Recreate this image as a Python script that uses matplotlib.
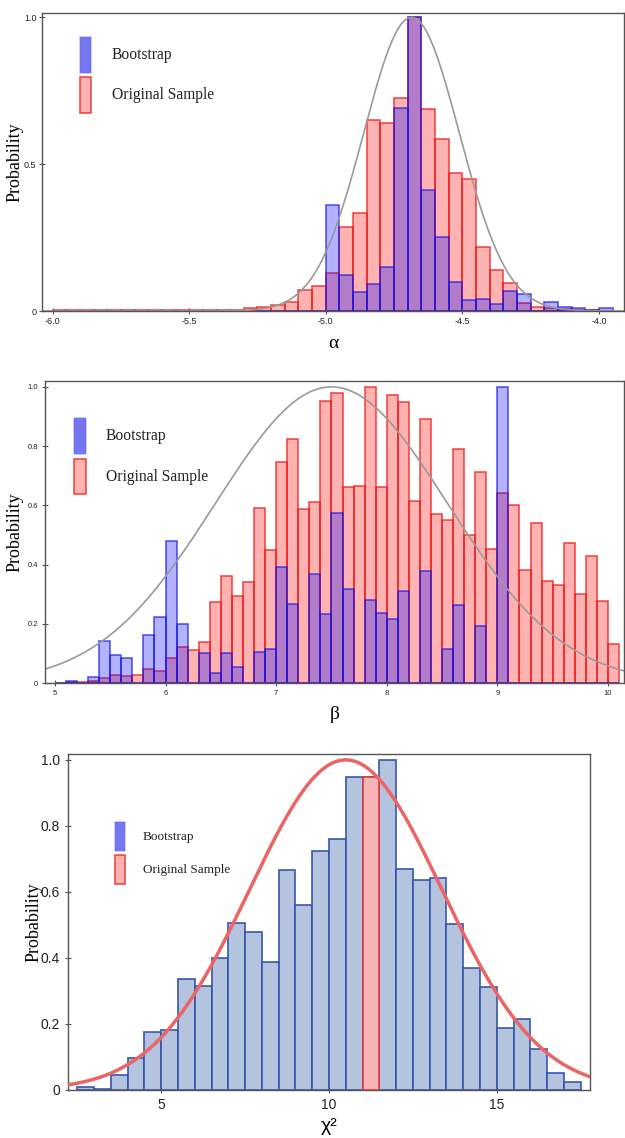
import numpy as np
import matplotlib
matplotlib.use("Agg")
import matplotlib.pyplot as plt
import matplotlib.patches as patches

# ---- alpha panel: bins of 0.05 starting at -6.0 ----
alpha_edges_start = -6.0
alpha_width = 0.05
alpha_orig = [0.003] * 13 + [0.005, 0.009, 0.015, 0.02, 0.03, 0.07, 0.086,
              0.128, 0.285, 0.335, 0.650, 0.641, 0.726, 1.0, 0.688, 0.585,
              0.469, 0.448, 0.219, 0.140, 0.096, 0.028, 0.012, 0.009, 0.006,
              0.004, 0.005, 0.0]
alpha_boot = [0.0] * 20 + [0.361, 0.121, 0.066, 0.092, 0.149, 0.692, 1.0,
              0.411, 0.253, 0.098, 0.037, 0.042, 0.023, 0.069, 0.058, 0.0,
              0.032, 0.015, 0.009, 0.005, 0.009]
alpha_curve = (-4.686, 0.175)
alpha_ticks = [-6.0, -5.5, -5.0, -4.5, -4.0]

# ---- beta panel: bins of 0.1 starting at 5.0 ----
beta_edges_start = 5.0
beta_width = 0.1
beta_orig = [0.002, 0.003, 0.004, 0.008, 0.017, 0.029, 0.025, 0.027, 0.048,
             0.042, 0.085, 0.122, 0.112, 0.138, 0.274, 0.363, 0.296, 0.340,
             0.592, 0.448, 0.746, 0.825, 0.587, 0.610, 0.952, 0.980, 0.663,
             0.666, 1.0, 0.661, 0.974, 0.948, 0.615, 0.890, 0.571, 0.551,
             0.790, 0.500, 0.713, 0.452, 0.643, 0.602, 0.381, 0.542, 0.344,
             0.330, 0.472, 0.301, 0.430, 0.276, 0.133]
beta_boot = [0.0, 0.007, 0.0, 0.020, 0.142, 0.094, 0.085, 0.0, 0.164, 0.225,
             0.480, 0.200, 0.0, 0.101, 0.034, 0.103, 0.056, 0.0, 0.107, 0.117,
             0.391, 0.266, 0.0, 0.367, 0.233, 0.575, 0.318, 0.0, 0.281, 0.236,
             0.218, 0.311, 0.0, 0.379, 0.0, 0.115, 0.264, 0.0, 0.192, 0.0,
             1.0, 0, 0, 0, 0, 0, 0, 0, 0, 0, 0]
beta_curve = (7.5, 1.05)
beta_ticks = [5, 6, 7, 8, 9, 10]

# ---- chi2 panel: bins of 0.5 starting at 2.5 ----
chi_edges_start = 2.5
chi_width = 0.5
chi_boot = [0.008, 0.004, 0.044, 0.098, 0.175, 0.183, 0.335, 0.314, 0.400,
            0.507, 0.480, 0.387, 0.667, 0.560, 0.725, 0.760, 0.947, 0.947,
            1.0, 0.670, 0.636, 0.643, 0.502, 0.368, 0.311, 0.187, 0.216,
            0.124, 0.050, 0.025]
chi_orig_left = 11.0
chi_orig_height = 0.947
chi_curve = (10.5, 2.87)
chi_ticks = [5, 10, 15]

serif = ["Liberation Serif", "DejaVu Serif"]
sans = ["Liberation Sans", "DejaVu Sans"]

fig = plt.figure(figsize=(6.25, 11.38), dpi=100)


def lefts(start, width, n):
    return start + width * np.arange(n)


def legend_boxes(ax, x, ys, w, h, styles, labels, fs):
    for y, st, lab in zip(ys, styles, labels):
        ax.add_patch(patches.Rectangle((x, y), w, h, transform=ax.transAxes,
                                       clip_on=False, **st))
        ax.text(x + w + 0.035, y + h / 2, lab, transform=ax.transAxes,
                va="center", ha="left", fontsize=fs, family=serif, color="#222")


def style_axes(ax, tick_fs, pad=3.5):
    for s in ax.spines.values():
        s.set_color("#555555")
        s.set_linewidth(1.0)
    ax.tick_params(direction="inout", length=5, width=0.8, colors="#555555",
                   labelsize=tick_fs, labelcolor="#222222", pad=pad)
    for lab in ax.get_xticklabels() + ax.get_yticklabels():
        lab.set_family(sans)


red_kw = dict(facecolor=(1, 0, 0, 0.3), edgecolor=(0.95, 0.1, 0.1, 0.75), linewidth=1.2)
blue_kw = dict(facecolor=(0, 0, 1, 0.3), edgecolor=(0.1, 0.1, 0.9, 0.7), linewidth=1.2)
leg_blue = dict(facecolor=(0.1, 0.1, 0.9, 0.6), edgecolor=(0.4, 0.4, 1, 0.4), linewidth=1.2)
leg_red = dict(facecolor=(1, 0, 0, 0.3), edgecolor=(0.95, 0.1, 0.1, 0.75), linewidth=1.2)

# ---------- panel 1 ----------
ax1 = fig.add_axes([0.0672, 0.7267, 0.9312, 0.2619])
ax1.bar(lefts(alpha_edges_start, alpha_width, len(alpha_orig)), alpha_orig,
        width=alpha_width, align="edge", **red_kw)
ax1.bar(lefts(alpha_edges_start, alpha_width, len(alpha_boot)), alpha_boot,
        width=alpha_width, align="edge", **blue_kw)
xs = np.linspace(-6.04, -3.9, 400)
ax1.plot(xs, np.exp(-0.5 * ((xs - alpha_curve[0]) / alpha_curve[1]) ** 2),
         color="#9a9a9a", lw=1.2)
ax1.set_xlim(-6.039, -3.908)
ax1.set_ylim(0, 1.015)
ax1.set_xticks(alpha_ticks)
ax1.set_xticklabels(["-6.0", "-5.5", "-5.0", "-4.5", "-4.0"])
ax1.set_yticks([0, 0.5, 1.0])
ax1.set_yticklabels(["0", "0.5", "1.0"])
style_axes(ax1, 6.5, pad=1.5)
ax1.set_xlabel("α", fontsize=14, family=serif, labelpad=7)
ax1.set_ylabel("Probability", fontsize=13, family=serif)
ax1.yaxis.set_label_coords(-0.031, 0.5)
legend_boxes(ax1, 0.066, [0.80, 0.665], 0.019, 0.12, [leg_blue, leg_red],
             ["Bootstrap", "Original Sample"], 11.2)

# ---------- panel 2 ----------
ax2 = fig.add_axes([0.072, 0.3996, 0.9264, 0.2654])
ax2.bar(lefts(beta_edges_start, beta_width, len(beta_orig)), beta_orig,
        width=beta_width, align="edge", **red_kw)
ax2.bar(lefts(beta_edges_start, beta_width, len(beta_boot)), beta_boot,
        width=beta_width, align="edge", **blue_kw)
xs = np.linspace(4.9, 10.2, 400)
ax2.plot(xs, np.exp(-0.5 * ((xs - beta_curve[0]) / beta_curve[1]) ** 2),
         color="#9a9a9a", lw=1.2)
ax2.set_xlim(4.91, 10.145)
ax2.set_ylim(0, 1.019)
ax2.set_xticks(beta_ticks)
ax2.set_yticks([0, 0.2, 0.4, 0.6, 0.8, 1.0])
ax2.set_yticklabels(["0", "0.2", "0.4", "0.6", "0.8", "1.0"])
style_axes(ax2, 5.5, pad=2.5)
ax2.set_xlabel("β", fontsize=14, family=serif, labelpad=6)
ax2.set_ylabel("Probability", fontsize=13, family=serif)
ax2.yaxis.set_label_coords(-0.037, 0.5)
legend_boxes(ax2, 0.05, [0.76, 0.625], 0.02, 0.117, [leg_blue, leg_red],
             ["Bootstrap", "Original Sample"], 11.2)

# ---------- panel 3 ----------
ax3 = fig.add_axes([0.1093, 0.0422, 0.8347, 0.2953])
ax3.bar(lefts(chi_edges_start, chi_width, len(chi_boot)), chi_boot,
        width=chi_width, align="edge", facecolor="#b4c4de",
        edgecolor=(0.2, 0.32, 0.68, 0.9), linewidth=1.3)
ax3.bar([chi_orig_left], [chi_orig_height], width=chi_width, align="edge",
        facecolor="#f7b3b5", edgecolor="#e23a3a", linewidth=1.2, zorder=3)
xs = np.linspace(2.2, 17.8, 400)
ax3.plot(xs, np.exp(-0.5 * ((xs - chi_curve[0]) / chi_curve[1]) ** 2),
         color="#ec6464", lw=2.5, zorder=4)
ax3.set_xlim(2.23, 17.78)
ax3.set_ylim(0, 1.018)
ax3.set_xticks(chi_ticks)
ax3.set_yticks([0, 0.2, 0.4, 0.6, 0.8, 1.0])
ax3.set_yticklabels(["0", "0.2", "0.4", "0.6", "0.8", "1.0"])
style_axes(ax3, 10)
ax3.set_xlabel("χ²", fontsize=14, family=sans, labelpad=4)
ax3.set_ylabel("Probability", fontsize=13, family=serif)
ax3.yaxis.set_label_coords(-0.05, 0.5)
legend_boxes(ax3, 0.09, [0.71, 0.612], 0.018, 0.088, [leg_blue, leg_red],
             ["Bootstrap", "Original Sample"], 9.5)

fig.savefig("out.png", dpi=100)
